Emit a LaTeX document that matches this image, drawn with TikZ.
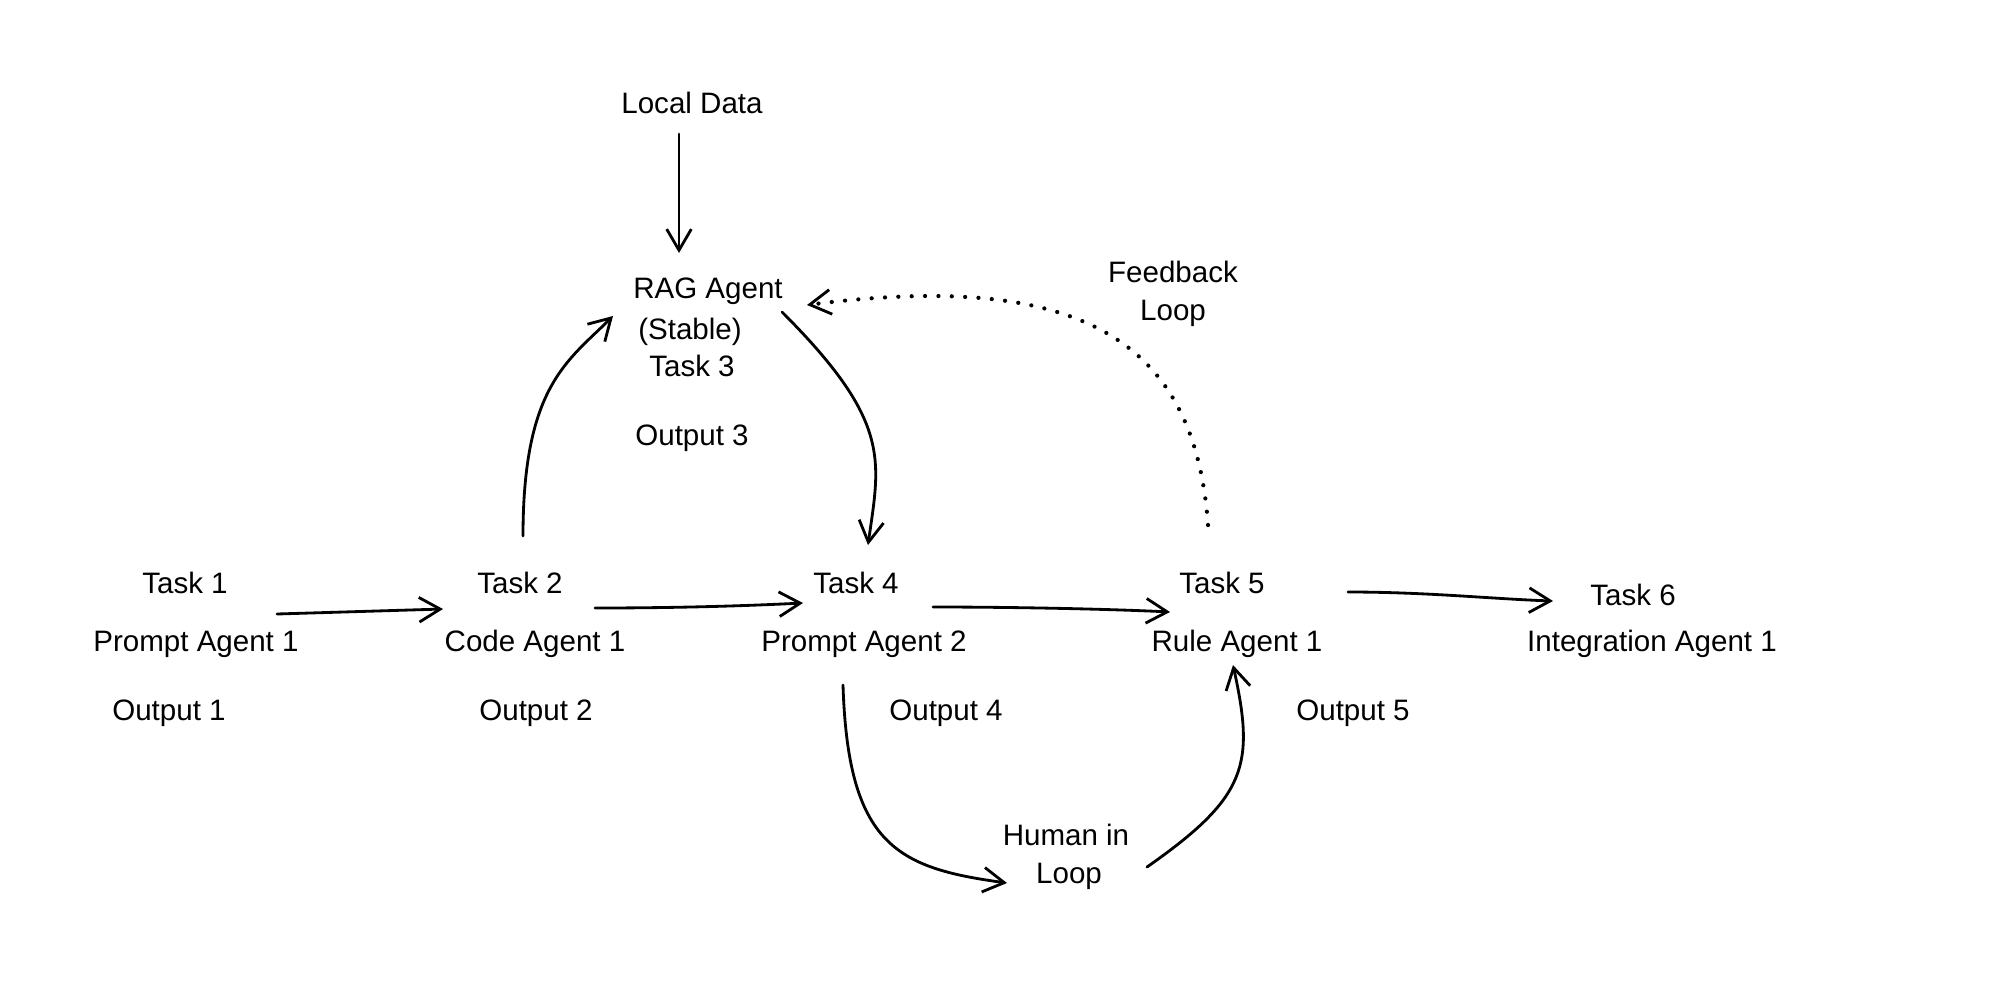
\documentclass[tikz,border=0pt]{standalone}
\usepackage{fontspec}
\setmainfont{Liberation Sans}
\usetikzlibrary{arrows.meta}
\begin{document}
\begin{tikzpicture}[x=0.01cm,y=-0.01cm,
  lbl/.style={font=\fontsize{8.4}{10}\selectfont, inner sep=0pt, anchor=base},
  arr/.style={line width=0.8pt, line cap=round, -{Straight Barb[length=6pt,width=7pt,line width=0.8pt]}},
  dotarr/.style={line width=1.2pt, line cap=round, dash pattern=on 0pt off 3.8pt, -{Straight Barb[length=6pt,width=7pt,line width=0.8pt]}}]
\fill[white] (0,0) rectangle (2000,1000);
\useasboundingbox (0,0) rectangle (2000,1000);

% top
\node[lbl] (ld) at (692,113) {Local Data};
\node[lbl] (rag) at (708,298) {RAG Agent};
\node[lbl] (stable) at (690,339) {(Stable)};
\node[lbl] (t3) at (692,376) {Task 3};
\node[lbl] (o3) at (692,445) {Output 3};
\node[lbl] (fb1) at (1173,282) {Feedback};
\node[lbl] (fb2) at (1173,320) {Loop};

% row
\node[lbl] (t1) at (185,593) {Task 1};
\node[lbl] (pa1) at (196,651) {Prompt Agent 1};
\node[lbl] (o1) at (169,720) {Output 1};
\node[lbl] (t2) at (520,593) {Task 2};
\node[lbl] (ca1) at (535,651) {Code Agent 1};
\node[lbl] (o2) at (536,720) {Output 2};
\node[lbl] (t4) at (856,593) {Task 4};
\node[lbl] (pa2) at (864,651) {Prompt Agent 2};
\node[lbl] (o4) at (946,720) {Output 4};
\node[lbl] (t5) at (1222,593) {Task 5};
\node[lbl] (ra1) at (1237,651) {Rule Agent 1};
\node[lbl] (o5) at (1353,720) {Output 5};
\node[lbl] (t6) at (1633,605) {Task 6};
\node[lbl] (ia1) at (1652,651) {Integration Agent 1};

% bottom
\node[lbl] (hil) at (1066,845) {Human in};
\node[lbl] (hilb) at (1069,883) {Loop};

% connectors
\draw[arr] ([shift={(-13,21)}]ld.base) -- ([shift={(-29,-45)}]rag.base);
\draw[arr] ([shift={(92,21)}]t1.base) -- ([shift={(-77,16)}]t2.base);
\draw[arr] ([shift={(75,15)}]t2.base) .. controls +(80,0) and +(-60,3) .. ([shift={(-53,10)}]t4.base);
\draw[arr] ([shift={(77,14)}]t4.base) .. controls +(80,0) and +(-60,-3) .. ([shift={(-52,19)}]t5.base);
\draw[arr] ([shift={(126,-1)}]t5.base) .. controls +(80,0) and +(-60,-2) .. ([shift={(-80,-4)}]t6.base);
\draw[arr] ([shift={(3,-57)}]t2.base) .. controls +(0,-150) and +(-45,45) .. ([shift={(-95,18)}]rag.base);
\draw[arr] ([shift={(74,14)}]rag.base) .. controls +(110,110) and +(12,-85) .. ([shift={(12,-48)}]t4.base);
\draw[dotarr] ([shift={(-14,-68)}]t5.base) .. controls +(-13,-185) and +(273,-35) .. ([shift={(99,7)}]rag.base);
\draw[arr] ([shift={(-21,34)}]pa2.base) .. controls +(5,160) and +(-110,-15) .. ([shift={(-62,0)}]hilb.base);
\draw[arr] ([shift={(78,-16)}]hilb.base) .. controls +(100,-70) and +(22,100) .. ([shift={(-4,14)}]ra1.base);
\end{tikzpicture}
\end{document}
